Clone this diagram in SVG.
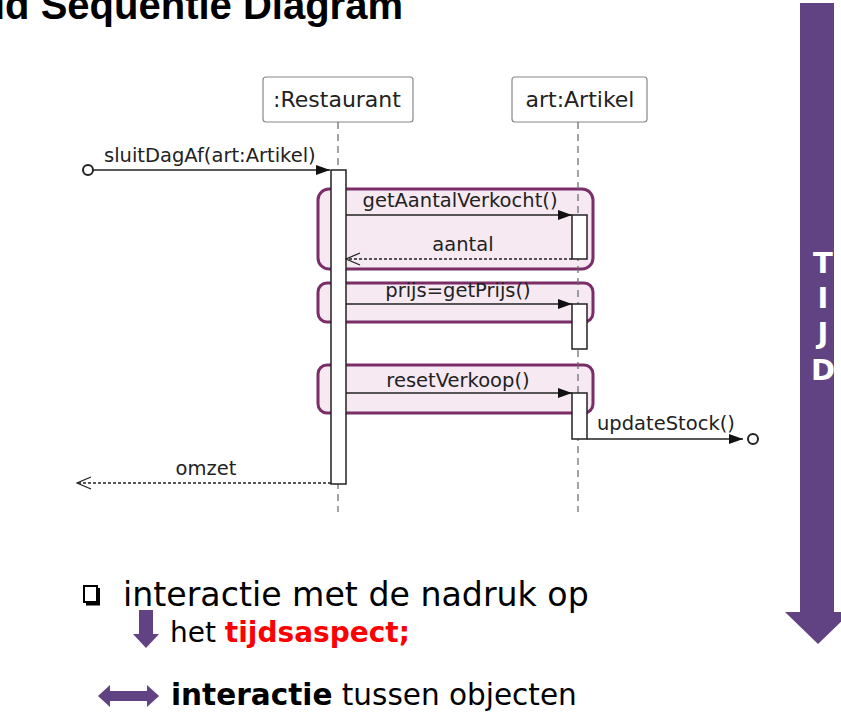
<svg xmlns="http://www.w3.org/2000/svg" width="841" height="723" viewBox="0 0 841 723">
<style>
.lbl{font-family:"DejaVu Sans",sans-serif;font-size:19.5px;fill:#222}
.hdr{font-family:"DejaVu Sans",sans-serif;font-size:22px;fill:#222}
.life{stroke:#666;stroke-width:1.2;stroke-dasharray:7,5;fill:none}
.act{fill:#fff;stroke:#222;stroke-width:1.5}
.msg{stroke:#222;stroke-width:1.5;fill:none}
.ret{stroke:#222;stroke-width:1.5;fill:none;stroke-dasharray:3,2}
.frame{fill:#f3e2ee;fill-opacity:0.75;stroke:#7b2d68;stroke-width:3}
.node{fill:#fff;stroke:#888;stroke-width:1.2}
.big{font-family:"DejaVu Sans",Verdana,sans-serif;fill:#000}
.purple{fill:#614283}
</style>
<defs>
<marker id="fill" viewBox="0 0 14 10" refX="14" refY="5" markerWidth="14" markerHeight="10" markerUnits="userSpaceOnUse" orient="auto"><path d="M0,0 L14,5 L0,10 Z" fill="#111"/></marker>
<marker id="open" viewBox="-1 -1 16 14" refX="14" refY="6" markerWidth="16" markerHeight="14" markerUnits="userSpaceOnUse" orient="auto"><path d="M0,0 L14,6 L0,12" fill="none" stroke="#222" stroke-width="1.3"/></marker>
</defs>
<rect width="841" height="723" fill="#fff"/>
<text x="-6" y="19" font-family="Liberation Sans,Arial,sans-serif" font-weight="bold" font-size="40" fill="#000">ld Sequentie Diagram</text>

<g id="tijd">
<path class="purple" d="M800,3 H834 V612 H851 L818,644 L785,612 H800 Z"/>
<g font-family="DejaVu Sans,Verdana,sans-serif" font-weight="bold" font-size="29" fill="#fff" text-anchor="middle">
<text x="823" y="273">T</text><text x="823" y="308">I</text><text x="823" y="343">J</text><text x="823" y="380">D</text>
</g>
</g>

<g id="frames">
<rect class="frame" x="318" y="189" width="275" height="80" rx="11"/>
<rect class="frame" x="318" y="283" width="275" height="39" rx="9"/>
<rect class="frame" x="318" y="365" width="275" height="48" rx="9"/>
</g>

<g id="restaurant">
<rect class="node" x="263" y="77" width="150" height="45" rx="3"/>
<text class="hdr" x="337" y="107" text-anchor="middle">:Restaurant</text>
<line class="life" x1="338" y1="122" x2="338" y2="512"/>
</g>
<g id="artikel">
<rect class="node" x="512" y="77" width="135" height="45" rx="3"/>
<text class="hdr" x="580" y="107" text-anchor="middle">art:Artikel</text>
<line class="life" x1="578" y1="122" x2="578" y2="512"/>
</g>

<g id="activations">
<rect class="act" x="331" y="170" width="15" height="314"/>
<rect class="act" x="572" y="215" width="15" height="44"/>
<rect class="act" x="572" y="304" width="15" height="45"/>
<rect class="act" x="572" y="393" width="15" height="46"/>
</g>

<g id="connectors">
<circle cx="88" cy="170" r="5" fill="#fff" stroke="#222" stroke-width="2"/>
<line class="msg" x1="93" y1="170" x2="330" y2="170" marker-end="url(#fill)"/>
<text class="lbl" x="104" y="162">sluitDagAf(art:Artikel)</text>
<line class="msg" x1="346" y1="215" x2="572" y2="215" marker-end="url(#fill)"/>
<text class="lbl" x="460" y="207" text-anchor="middle">getAantalVerkocht()</text>
<line class="ret" x1="572" y1="259" x2="346" y2="259" marker-end="url(#open)"/>
<text class="lbl" x="463" y="251" text-anchor="middle">aantal</text>
<line class="msg" x1="346" y1="304" x2="572" y2="304" marker-end="url(#fill)"/>
<text class="lbl" x="458" y="297" text-anchor="middle">prijs=getPrijs()</text>
<line class="msg" x1="346" y1="393" x2="572" y2="393" marker-end="url(#fill)"/>
<text class="lbl" x="458" y="387" text-anchor="middle">resetVerkoop()</text>
<line class="msg" x1="587" y1="439" x2="743" y2="439" marker-end="url(#fill)"/>
<circle cx="753" cy="439" r="5" fill="#fff" stroke="#222" stroke-width="2"/>
<text class="lbl" x="597" y="430">updateStock()</text>
<line class="ret" x1="331" y1="483" x2="77" y2="483" marker-end="url(#open)"/>
<text class="lbl" x="206" y="475" text-anchor="middle">omzet</text>
</g>

<g id="notes">
<rect x="84" y="586" width="13" height="16" fill="#fff" stroke="#000" stroke-width="2"/>
<path d="M98.5,588 V604 H86" fill="none" stroke="#000" stroke-width="3"/>
<text class="big" x="123" y="606" font-size="33.2">interactie met de nadruk op</text>
<path class="purple" d="M139,610 H153 V634 H159 L146,648 L133,634 H139 Z"/>
<text class="big" x="170" y="642" font-size="28">het <tspan fill="#f00" font-weight="bold">tijdsaspect;</tspan></text>
<path class="purple" d="M98,696 L110,685 V691 H147 V685 L159,696 L147,707 V701 H110 V707 Z"/>
<text class="big" x="171" y="705" font-size="29.5"><tspan font-weight="bold">interactie</tspan> tussen objecten</text>
</g>
</svg>
